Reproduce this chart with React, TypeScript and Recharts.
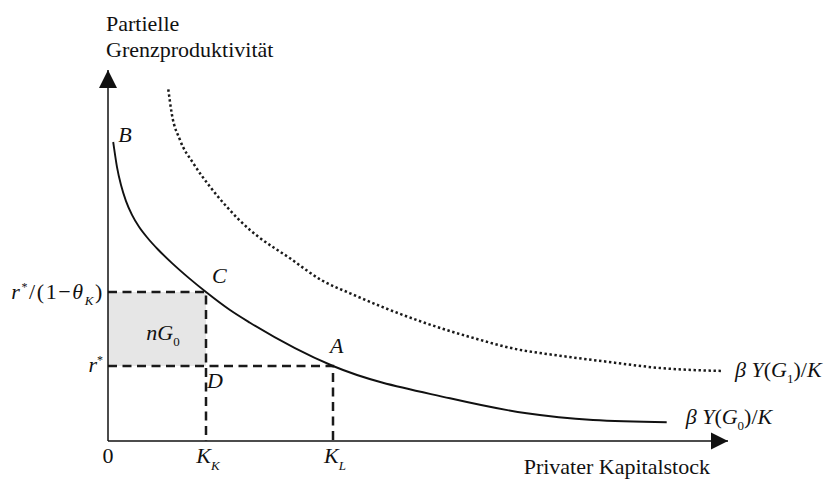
import React from 'react';
import {
  ComposedChart,
  Line,
  XAxis,
  YAxis,
  ReferenceArea,
  ReferenceDot,
} from 'recharts';

// ---------- data ----------
const kMax = 620;
const vMax = 371;

// solid curve βY(G0)/K
const solidK = [5.2, 6, 9, 13, 18, 24, 31, 40, 50, 64, 81, 98, 122, 142, 225, 342, 418.7, 485, 558.7];
const solidV = [299, 293.4, 273.9, 255.9, 239.9, 226.1, 214.2, 202.5, 191.5, 177.9, 162.9, 149, 131, 118.3, 75, 42.7, 27.7, 21, 18.7];

// dotted curve βY(G1)/K
const dottedK = [60.3, 63.7, 72, 85.3, 102, 118.7, 142, 150.3, 182, 213.7, 242, 308.7, 362, 415.3, 432, 498.7, 552, 615];
const dottedV = [351.7, 327.7, 301, 277.7, 254.3, 234.3, 211, 204.3, 182.7, 160.7, 147.7, 121, 104, 90.5, 88, 79.3, 73, 70];

// marked levels
const kK = 98;
const kL = 225;
const rStar = 75;
const rTheta = 149;

const xTicks = [0, kK, kL];
const xTickMain = ['0', 'K', 'K'];
const xTickSub = ['', 'K', 'L'];
const yTicks = [rStar, rTheta];

const solidData = solidK.map((k, i) => ({ k, v: solidV[i] }));
const dottedData = dottedK.map((k, i) => ({ k, v: dottedV[i] }));
const guideC = [
  { k: 0, v: rTheta },
  { k: kK, v: rTheta },
  { k: kK, v: 0 },
];
const guideA = [
  { k: 0, v: rStar },
  { k: kL, v: rStar },
  { k: kL, v: 0 },
];

// ---------- styles ----------
const FONT = '"Liberation Serif", "Times New Roman", serif';
const INK = '#111';
const FS = 22;
const SUB = 13;

const XTick = (p: any) => {
  const i = xTicks.indexOf(p.payload.value);
  if (i === 0) {
    return (
      <text x={p.x} y={p.y + 22} textAnchor="middle" fontFamily={FONT} fontSize={FS} fill={INK}>
        0
      </text>
    );
  }
  return (
    <text x={p.x + 2} y={p.y + 22} textAnchor="middle" fontFamily={FONT} fontSize={FS} fill={INK}>
      <tspan fontStyle="italic">{xTickMain[i]}</tspan>
      <tspan fontStyle="italic" fontSize={SUB} dy={7}>{xTickSub[i]}</tspan>
    </text>
  );
};

const YTick = (p: any) => {
  const v = p.payload.value;
  if (v === rStar) {
    return (
      <text x={p.x - 5} y={p.y + 6} textAnchor="end" fontFamily={FONT} fontSize={FS} fill={INK}>
        <tspan fontStyle="italic">r</tspan>
        <tspan fontSize={12} dy={-8}>*</tspan>
      </text>
    );
  }
  return (
    <text x={p.x - 4} y={p.y + 7} textAnchor="end" fontFamily={FONT} fontSize={FS} fill={INK} letterSpacing={1.6}>
      <tspan fontStyle="italic">r</tspan>
      <tspan fontSize={12} dy={-8}>*</tspan>
      <tspan dy={8}>/(1−</tspan>
      <tspan fontStyle="italic">θ</tspan>
      <tspan fontStyle="italic" fontSize={SUB} dy={6}>K</tspan>
      <tspan dy={-6}>)</tspan>
    </text>
  );
};

const txt = (dx: number, dy: number, content: React.ReactNode, anchor = 'start') => (p: any) => (
  <text
    x={p.cx + dx}
    y={p.cy + dy}
    textAnchor={anchor}
    fontFamily={FONT}
    fontSize={FS}
    fill={INK}
  >
    {content}
  </text>
);

const xArrow = (p: any) => (
  <polygon
    points={`${p.cx},${p.cy} ${p.cx - 17},${p.cy - 8.5} ${p.cx - 17},${p.cy + 8.5}`}
    fill={INK}
  />
);
const yArrow = (p: any) => (
  <polygon
    points={`${p.cx},${p.cy} ${p.cx - 9},${p.cy + 18} ${p.cx + 9},${p.cy + 18}`}
    fill={INK}
  />
);

const yTitle = (p: any) => (
  <g fontFamily={FONT} fontSize={FS} fill={INK}>
    <text x={p.cx - 2} y={p.cy - 39}>Partielle</text>
    <text x={p.cx - 2} y={p.cy - 13}>Grenzproduktivität</text>
  </g>
);

const curveLabel = (dx: number, dy: number, sub: string) =>
  txt(
    dx,
    dy,
    <>
      <tspan fontStyle="italic">β Y</tspan>
      <tspan>(</tspan>
      <tspan fontStyle="italic">G</tspan>
      <tspan fontSize={SUB} dy={6}>{sub}</tspan>
      <tspan dy={-6}>)/</tspan>
      <tspan fontStyle="italic">K</tspan>
    </>
  );

export default function App() {
  const lastS = solidData[solidData.length - 1];
  const lastD = dottedData[dottedData.length - 1];
  return (
    <div style={{ position: 'absolute', left: 0, top: 0, width: 835, height: 479, background: '#fff' }}>
      <ComposedChart
        width={835}
        height={479}
        margin={{ top: 70, right: 107, bottom: 37, left: 107 }}
      >
        <XAxis
          dataKey="k"
          type="number"
          domain={[0, kMax]}
          ticks={xTicks}
          interval={0}
          allowDataOverflow
          height={1}
          tickLine={false}
          tickSize={0}
          tickMargin={0}
          axisLine={{ stroke: INK, strokeWidth: 1.5 }}
          tick={<XTick />}
        />
        <YAxis
          type="number"
          domain={[0, vMax]}
          ticks={yTicks}
          interval={0}
          allowDataOverflow
          width={1}
          tickLine={false}
          tickSize={0}
          tickMargin={0}
          axisLine={{ stroke: INK, strokeWidth: 1.5 }}
          tick={<YTick />}
        />
        <ReferenceArea x1={0} x2={kK} y1={rStar} y2={rTheta} fill="#e6e6e6" fillOpacity={1} stroke="none" />
        <Line
          data={guideC}
          dataKey="v"
          type="linear"
          stroke="#1a1a1a"
          strokeWidth={2.5}
          strokeDasharray="9 5.5"
          dot={false}
          activeDot={false}
          isAnimationActive={false}
        />
        <Line
          data={guideA}
          dataKey="v"
          type="linear"
          stroke="#1a1a1a"
          strokeWidth={2.5}
          strokeDasharray="9 5.5"
          dot={false}
          activeDot={false}
          isAnimationActive={false}
        />
        <Line
          data={dottedData}
          dataKey="v"
          type="monotone"
          stroke="#1a1a1a"
          strokeWidth={2.5}
          strokeDasharray="2.4 2.6"
          dot={false}
          activeDot={false}
          isAnimationActive={false}
        />
        <Line
          data={solidData}
          dataKey="v"
          type="monotone"
          stroke={INK}
          strokeWidth={1.9}
          dot={false}
          activeDot={false}
          isAnimationActive={false}
        />
        <ReferenceDot x={kMax} y={0} r={0} ifOverflow="visible" shape={xArrow} />
        <ReferenceDot x={0} y={vMax} r={0} ifOverflow="visible" shape={yArrow} />
        <ReferenceDot x={0} y={vMax} r={0} ifOverflow="visible" shape={yTitle} />
        <ReferenceDot
          x={kMax}
          y={0}
          r={0}
          ifOverflow="visible"
          shape={txt(-18, 33, 'Privater Kapitalstock', 'end')}
        />
        <ReferenceDot x={solidK[0]} y={solidV[0]} r={0} ifOverflow="visible" shape={txt(5, 0, <tspan fontStyle="italic">B</tspan>)} />
        <ReferenceDot x={kK} y={rTheta} r={0} ifOverflow="visible" shape={txt(6, -9, <tspan fontStyle="italic">C</tspan>)} />
        <ReferenceDot x={kL} y={rStar} r={0} ifOverflow="visible" shape={txt(-3, -13, <tspan fontStyle="italic">A</tspan>)} />
        <ReferenceDot x={kK} y={rStar} r={0} ifOverflow="visible" shape={txt(1, 22, <tspan fontStyle="italic">D</tspan>)} />
        <ReferenceDot
          x={kK / 2}
          y={(rStar + rTheta) / 2}
          r={0}
          ifOverflow="visible"
          shape={txt(
            6,
            11,
            <>
              <tspan fontStyle="italic">nG</tspan>
              <tspan fontSize={SUB} dy={6}>0</tspan>
            </>,
            'middle'
          )}
        />
        <ReferenceDot x={lastD.k} y={lastD.v} r={0} ifOverflow="visible" shape={curveLabel(12, 6, '1')} />
        <ReferenceDot x={lastS.k} y={lastS.v} r={0} ifOverflow="visible" shape={curveLabel(19, 2, '0')} />
      </ComposedChart>
    </div>
  );
}
